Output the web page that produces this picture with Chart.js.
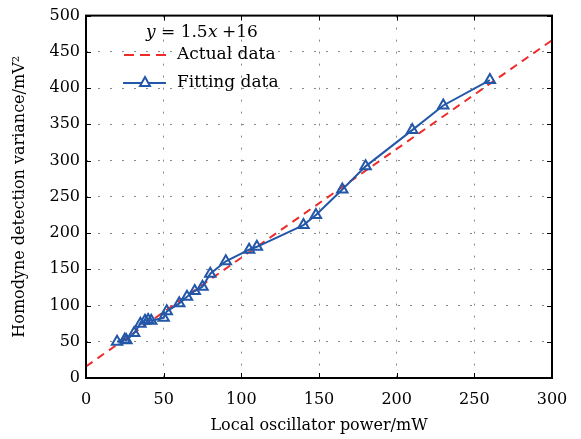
<!DOCTYPE html>
<html>
<head>
<meta charset="utf-8">
<script src="https://cdn.jsdelivr.net/npm/chart.js@4"></script>
<style>
  html, body { margin: 0; padding: 0; background: #fff; }
  #wrap { width: 581px; height: 439px; }
</style>
</head>
<body>
<div id="wrap"><canvas id="powerChart" width="581" height="439"></canvas></div>
<script>
// measured points (local oscillator power, homodyne variance)
var powerX = [20, 25, 26, 31, 35, 38, 40, 42, 50, 52, 60, 65, 70, 75, 80, 90, 105, 110, 140, 148, 165, 180, 210, 230, 260];
var varianceY = [50, 53, 52, 62, 75, 79, 80, 79, 83, 92, 103, 112, 120, 126, 144, 161, 177, 181, 211, 225, 260, 292, 342, 376, 411];
// linear fit y = 1.5x + 16, end points only
var fitX = [0, 300];
var fitY = [16, 466];
var xTicks = [0, 50, 100, 150, 200, 250, 300];
var yTicks = [0, 50, 100, 150, 200, 250, 300, 350, 400, 450, 500];

var serif = '"DejaVu Serif", "Liberation Serif", serif';
var blue = '#2357a8';
var red = '#ee2b2b';

// frame, inward ticks and the legend
var framePlugin = {
    id: 'frame',
    afterDraw: function(chart) {
        var ctx = chart.ctx;
        var a = chart.chartArea;
        var xs = chart.scales.x, ys = chart.scales.y;
        ctx.save();
        ctx.strokeStyle = '#000';
        ctx.lineWidth = 1;
        xTicks.forEach(function(t) {
            var px = Math.round(xs.getPixelForValue(t)) + 0.5;
            ctx.beginPath();
            ctx.moveTo(px, a.bottom); ctx.lineTo(px, a.bottom - 5);
            ctx.moveTo(px, a.top); ctx.lineTo(px, a.top + 5);
            ctx.stroke();
        });
        yTicks.forEach(function(t) {
            var py = Math.round(ys.getPixelForValue(t)) + 0.5;
            ctx.beginPath();
            ctx.moveTo(a.left, py); ctx.lineTo(a.left + 5, py);
            ctx.moveTo(a.right, py); ctx.lineTo(a.right - 5, py);
            ctx.stroke();
        });
        ctx.lineWidth = 2;
        ctx.strokeRect(a.left, a.top, a.right - a.left, a.bottom - a.top);

        // legend
        ctx.fillStyle = '#000';
        ctx.textBaseline = 'middle';
        ctx.font = 'italic 17px ' + serif;
        ctx.fillText('y', 146, 33);
        ctx.font = '17px ' + serif;
        ctx.fillText('= 1.5', 161, 33);
        ctx.font = 'italic 17px ' + serif;
        ctx.fillText('x', 208, 33);
        ctx.font = '17px ' + serif;
        ctx.fillText('+16', 222, 33);

        ctx.fillText(chart.data.datasets[1].label, 177, 55);
        ctx.fillText(chart.data.datasets[0].label, 177, 83);

        ctx.strokeStyle = red;
        ctx.lineWidth = 2;
        ctx.setLineDash([10, 6]);
        ctx.beginPath(); ctx.moveTo(124, 55); ctx.lineTo(166, 55); ctx.stroke();
        ctx.setLineDash([]);
        ctx.strokeStyle = blue;
        ctx.beginPath(); ctx.moveTo(123, 83); ctx.lineTo(166, 83); ctx.stroke();
        ctx.beginPath();
        ctx.moveTo(145, 77); ctx.lineTo(150, 86); ctx.lineTo(140, 86); ctx.closePath();
        ctx.fillStyle = '#fff'; ctx.fill(); ctx.stroke();
        ctx.restore();
    }
};

var ctx = document.getElementById('powerChart').getContext('2d');
var powerChart = new Chart(ctx, {
    type: 'scatter',
    data: {
        datasets: [{
            label: 'Fitting data',
            data: powerX.map(function(x, i) { return { x: x, y: varianceY[i] }; }),
            showLine: true,
            borderColor: blue,
            borderWidth: 2,
            pointStyle: 'triangle',
            pointRadius: 6,
            pointBorderWidth: 2,
            pointBorderColor: blue,
            pointBackgroundColor: 'rgba(255,255,255,0)',
            order: 1
        }, {
            label: 'Actual data',
            data: fitX.map(function(x, i) { return { x: x, y: fitY[i] }; }),
            showLine: true,
            borderColor: red,
            borderWidth: 2,
            borderDash: [8, 6],
            pointRadius: 0,
            order: 2
        }]
    },
    options: {
        responsive: false,
        animation: false,
        layout: { padding: { top: 12, right: 29, left: 0, bottom: 0 } },
        plugins: {
            legend: { display: false },
            tooltip: { enabled: false }
        },
        scales: {
            x: {
                type: 'linear',
                min: 0, max: 300,
                afterBuildTicks: function(s) { s.ticks = xTicks.map(function(v) { return { value: v }; }); },
                afterFit: function(s) { s.height = 61; },
                ticks: { color: '#000', font: { family: serif, size: 16 }, padding: 12 },
                grid: { color: '#888', lineWidth: 1, drawTicks: false },
                border: { display: false, dash: [2, 10] },
                title: { display: true, text: 'Local oscillator power/mW', color: '#000', font: { family: serif, size: 16 }, padding: { top: 9 } }
            },
            y: {
                type: 'linear',
                min: 0, max: 500,
                afterBuildTicks: function(s) { s.ticks = yTicks.map(function(v) { return { value: v }; }); },
                afterFit: function(s) { s.width = 86; },
                ticks: { color: '#000', font: { family: serif, size: 16 }, padding: 6 },
                grid: { color: '#888', lineWidth: 1, drawTicks: false },
                border: { display: false, dash: [2, 10] },
                title: { display: true, text: 'Homodyne detection variance/mV²', color: '#000', font: { family: serif, size: 16 }, padding: { top: 10, bottom: 2 } }
            }
        }
    },
    plugins: [framePlugin]
});
</script>
</body>
</html>
